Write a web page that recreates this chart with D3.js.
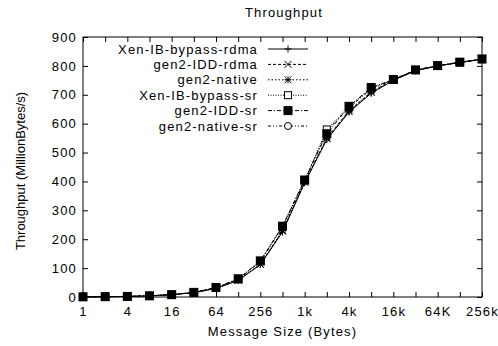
<!DOCTYPE html>
<html>
<head>
<meta charset="utf-8">
<script src="https://cdn.jsdelivr.net/npm/d3@7"></script>
<style>
  body { margin: 0; background: #fff; }
  text { font-family: "Liberation Sans", Arial, sans-serif; letter-spacing: 1.15px; }
</style>
</head>
<body>
<div id="chart"></div>
<script>
// message sizes (bytes) and tick labels
const sizes = [1, 2, 4, 8, 16, 32, 64, 128, 256, 512, 1024, 2048, 4096, 8192, 16384, 32768, 65536, 131072, 262144];
const xTickValues = [1, 4, 16, 64, 256, 1024, 4096, 16384, 65536, 262144];
const xTickLabels = ["1", "4", "16", "64", "256", "1k", "4k", "16k", "64K", "256k"];
const yTickValues = [0, 100, 200, 300, 400, 500, 600, 700, 800, 900];

const seriesNames = ["Xen-IB-bypass-rdma", "gen2-IDD-rdma", "gen2-native", "Xen-IB-bypass-sr", "gen2-IDD-sr", "gen2-native-sr"];

const xenRdma    = [0.5, 1, 2, 4, 8, 15, 30, 57, 112, 225, 395, 545, 640, 705, 750, 783, 800, 812, 823];
const iddRdma    = [0.5, 1, 2, 4, 8, 15, 30, 58, 113, 228, 398, 550, 645, 710, 752, 784, 800, 812, 823];
const nativeRdma = [0.5, 1, 2, 4, 8, 15, 30, 58, 114, 230, 398, 548, 642, 708, 751, 784, 800, 812, 823];
const xenSr      = [0.5, 1, 2, 4, 8, 16, 32, 62, 124, 245, 405, 580, 660, 722, 752, 786, 800, 812, 823];
const iddSr      = [0.5, 1, 2, 4, 8, 16, 33, 63, 125, 245, 405, 565, 660, 725, 753, 786, 801, 813, 824];
const nativeSr   = [0.5, 1, 2, 4, 8, 16, 32, 62, 122, 242, 402, 575, 655, 720, 752, 785, 800, 812, 823];

const allSeries = [xenRdma, iddRdma, nativeRdma, xenSr, iddSr, nativeSr];
const dashes = [null, "3,2", "1.5,2", "1,1.5", "4,2,1,2", "3,2,1,2,1,2"];
const markers = ["plus", "cross", "star", "square", "squareFilled", "circle"];
// filled squares sit on top in the original
const drawOrder = [0, 1, 2, 5, 3, 4];

const fontSize = "13px";
const svgWidth = 498;
const svgHeight = 346;
const margin = { top: 37, right: 16, bottom: 49, left: 83 };
const width = svgWidth - margin.left - margin.right;
const height = svgHeight - margin.top - margin.bottom;

const svg = d3.select("#chart").append("svg")
    .attr("width", svgWidth).attr("height", svgHeight);

const g = svg.append("g").attr("transform", `translate(${margin.left},${margin.top})`);

const x = d3.scaleLog().base(2).domain([1, 262144]).range([0, width]);
const y = d3.scaleLinear().domain([0, 900]).range([height, 0]);

// axes with inward ticks, mirrored on top/right
const xAxis = g.append("g").attr("transform", `translate(0,${height})`)
    .call(d3.axisBottom(x).tickValues(sizes).tickSizeInner(-5).tickSizeOuter(0)
        .tickFormat(d => { const i = xTickValues.indexOf(d); return i >= 0 ? xTickLabels[i] : ""; }));
xAxis.selectAll("text").attr("dy", "1.2em");

g.append("g")
    .call(d3.axisTop(x).tickValues(sizes).tickSizeInner(-5).tickSizeOuter(0).tickFormat(""));

const yAxis = g.append("g")
    .call(d3.axisLeft(y).tickValues(yTickValues).tickSizeInner(-5).tickSizeOuter(0));
yAxis.selectAll("text").attr("x", -6);

g.append("g").attr("transform", `translate(${width},0)`)
    .call(d3.axisRight(y).tickValues(yTickValues).tickSizeInner(-5).tickSizeOuter(0).tickFormat(""));

g.selectAll(".domain").remove();
g.selectAll(".tick text").style("font-size", fontSize).attr("fill", "#000");
g.selectAll(".tick line").attr("stroke", "#000");

g.append("rect").attr("x", 0).attr("y", 0).attr("width", width).attr("height", height)
    .attr("fill", "none").attr("stroke", "#000").attr("stroke-width", 1);

function drawMarker(sel, type, cx, cy) {
    const s = 3.5;
    const m = sel.append("g").attr("transform", `translate(${cx},${cy})`);
    if (type === "plus" || type === "star") {
        m.append("path").attr("d", `M${-s},0H${s}M0,${-s}V${s}`);
    }
    if (type === "cross" || type === "star") {
        m.append("path").attr("d", `M${-s},${-s}L${s},${s}M${-s},${s}L${s},${-s}`);
    }
    if (type === "square") {
        m.append("rect").attr("x", -s).attr("y", -s).attr("width", 2 * s).attr("height", 2 * s).attr("fill", "#fff");
    }
    if (type === "squareFilled") {
        m.append("rect").attr("x", -s - 0.5).attr("y", -s - 0.5).attr("width", 2 * s + 1).attr("height", 2 * s + 1).attr("fill", "#000");
    }
    if (type === "circle") {
        m.append("circle").attr("r", s).attr("fill", "#fff");
    }
    m.selectAll("*").attr("stroke", "#000").attr("stroke-width", 1);
}

const line = d3.line().x((d, i) => x(sizes[i])).y(d => y(d));

drawOrder.forEach(k => {
    g.append("path").datum(allSeries[k])
        .attr("d", line)
        .attr("fill", "none").attr("stroke", "#000").attr("stroke-width", 1)
        .attr("stroke-dasharray", dashes[k]);
});
drawOrder.forEach(k => {
    allSeries[k].forEach((v, i) => drawMarker(g, markers[k], x(sizes[i]), y(v)));
});

// legend
const legend = g.append("g");
seriesNames.forEach((name, k) => {
    const ly = 12 + k * 15.4;
    legend.append("text").attr("x", 175).attr("y", ly).attr("dy", "0.35em")
        .attr("text-anchor", "end").style("font-size", fontSize).text(name);
    legend.append("line").attr("x1", 185).attr("x2", 225).attr("y1", ly).attr("y2", ly)
        .attr("stroke", "#000").attr("stroke-width", 1).attr("stroke-dasharray", dashes[k]);
    drawMarker(legend, markers[k], 205, ly);
});

// titles
svg.append("text").attr("x", 284).attr("y", 17).attr("text-anchor", "middle")
    .style("font-size", fontSize).text("Throughput");
svg.append("text").attr("x", margin.left + width / 2).attr("y", 336).attr("text-anchor", "middle")
    .style("font-size", fontSize).text("Message Size (Bytes)");
svg.append("text").attr("transform", "translate(25,171) rotate(-90)")
    .attr("text-anchor", "middle").style("font-size", fontSize).style("letter-spacing", "0px")
    .text("Throughput (MillionBytes/s)");
</script>
</body>
</html>
